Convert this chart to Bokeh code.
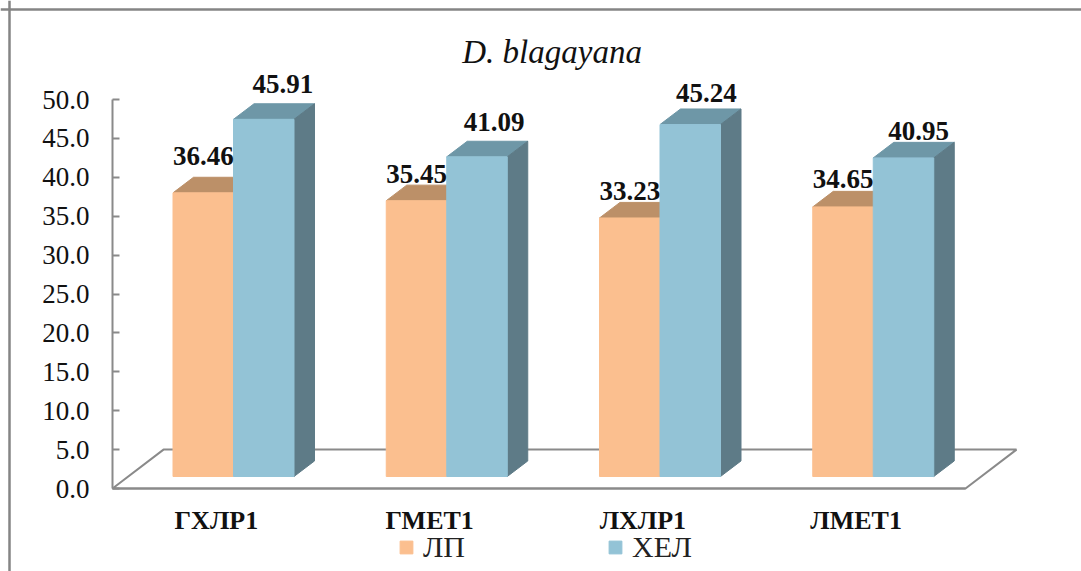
from bokeh.plotting import figure
from bokeh.models import (ColumnDataSource, FixedTicker, NumeralTickFormatter, Legend, LegendItem,
                          Label, Span)
from bokeh.core.properties import value
from bokeh.embed import file_html
from bokeh.resources import INLINE

# ---- data ----
categories = ["ГХЛР1", "ГМЕТ1", "ЛХЛР1", "ЛМЕТ1"]
lp_values = [36.46, 35.45, 33.23, 34.65]
hel_values = [45.91, 41.09, 45.24, 40.95]
series_names = ["ЛП", "ХЕЛ"]
y_ticks = [0, 5, 10, 15, 20, 25, 30, 35, 40, 45, 50]
title_text = "D. blagayana"

# ---- layout and style ----
W, H = 1081, 571
ORIGIN_X, ORIGIN_Y = 112, 488                  # pixel of the chart's origin
PX_X, PX_Y = 213.25, 7.78                      # pixels per data unit
DX, DY = 20.5 / PX_X, 2.0                      # depth of the 3D bars
BASE = 12 / PX_Y                               # front plane lift over the floor
BAR_W = 60.5 / PX_X
CENTER = 121 / PX_X
FLOOR_DX = 51 / PX_X
SERIF = "Liberation Serif"
GREY = "#8a8a8a"
INK = "#111111"
ORANGE, ORANGE_TOP = "#fbbf8f", "#bc9068"
BLUE, BLUE_TOP, BLUE_SIDE = "#93c3d6", "#6e97a7", "#5e7b87"

p = figure(width=W, height=H, output_backend="svg", toolbar_location=None,
           x_range=(-ORIGIN_X / PX_X, (W - ORIGIN_X) / PX_X),
           y_range=((ORIGIN_Y - H) / PX_Y, ORIGIN_Y / PX_Y),
           min_border=0, background_fill_color="white", border_fill_color="white")
p.outline_line_color = None
p.grid.visible = False

# ---- axes (placed inside the frame so that the frame fills the page) ----
ya = p.yaxis[0]
ya.fixed_location = 0
ya.bounds = (0, 50)
ya.ticker = FixedTicker(ticks=y_ticks)
ya.formatter = NumeralTickFormatter(format="0.0")
ya.major_tick_in, ya.major_tick_out = 7, 0
ya.minor_tick_line_color = None
ya.axis_line_color = ya.major_tick_line_color = GREY
ya.axis_line_width = ya.major_tick_line_width = 2
ya.major_label_text_font = SERIF
ya.major_label_text_font_size = "27px"
ya.major_label_text_color = INK
ya.major_label_standoff = 23

n = len(categories)
label_pos = [i + 0.487 for i in range(n)]
xa = p.xaxis[0]
xa.fixed_location = 0
xa.bounds = (0, n)
xa.ticker = FixedTicker(ticks=label_pos)
xa.major_label_overrides = dict(zip(label_pos, categories))
xa.major_tick_line_color = None
xa.minor_tick_line_color = None
xa.axis_line_color = GREY
xa.axis_line_width = 2
xa.major_label_text_font = SERIF
xa.major_label_text_font_style = "bold"
xa.major_label_text_font_size = "26px"
xa.major_label_text_color = INK
xa.major_label_standoff = 11

# ---- outer frame lines ----
p.add_layout(Span(location=9, location_units="screen", dimension="height",
                  line_color="#858585", line_width=2.5))
p.add_layout(Span(location=H - 9, location_units="screen", dimension="width",
                  line_color="#858585", line_width=2.5))

# ---- floor ----
p.patch([0, FLOOR_DX, n + FLOOR_DX, n], [0, 5, 5, 0], fill_color=None,
        line_color=GREY, line_width=2)


def faces(center, vals):
    left = [c - BAR_W / 2 for c in center]
    right = [c + BAR_W / 2 for c in center]
    top = [BASE + v for v in vals]
    top_x = [[l, l + DX, r + DX, r] for l, r in zip(left, right)]
    top_y = [[t, t + DY, t + DY, t] for t in top]
    side_x = [[r, r + DX, r + DX, r] for r in right]
    side_y = [[BASE, BASE + DY, t + DY, t] for t in top]
    return top, top_x, top_y, side_x, side_y


xs_lp = [i + CENTER - BAR_W / 2 for i in range(n)]
xs_hel = [i + CENTER + BAR_W / 2 for i in range(n)]

top, tx, ty, sx, sy = faces(xs_lp, lp_values)
p.patches(tx, ty, fill_color=ORANGE_TOP, line_color=ORANGE_TOP)
r_lp = p.vbar(x=xs_lp, top=top, bottom=BASE, width=BAR_W, fill_color=ORANGE, line_color=ORANGE)

top2, tx, ty, sx, sy = faces(xs_hel, hel_values)
p.patches(tx, ty, fill_color=BLUE_TOP, line_color=BLUE_TOP)
p.patches(sx, sy, fill_color=BLUE_SIDE, line_color=BLUE_SIDE)
r_hel = p.vbar(x=xs_hel, top=top2, bottom=BASE, width=BAR_W, fill_color=BLUE, line_color=BLUE)

# ---- value labels ----
lp_dx, lp_dy = [0, 0, 0, 0], [-37, -27, -27, -28]
hel_dx, hel_dy = [19, 17, 16, 15], [-35, -35, -32, -27]
for xs, tops, vals, dx, dy in ((xs_lp, top, lp_values, lp_dx, lp_dy),
                               (xs_hel, top2, hel_values, hel_dx, hel_dy)):
    src = ColumnDataSource(dict(x=xs, y=tops, t=[f"{v:.2f}" for v in vals], dx=dx, dy=dy))
    p.text(x="x", y="y", text="t", source=src, x_offset="dx", y_offset="dy",
           text_font=value(SERIF), text_font_style="bold", text_font_size="27px",
           text_align="center", text_baseline="middle", text_color=INK)

# ---- legend ----
legend = Legend(items=[LegendItem(label=series_names[0], renderers=[r_lp]),
                       LegendItem(label=series_names[1], renderers=[r_hel])],
                orientation="horizontal", location=(398, 7),
                glyph_width=16, glyph_height=16, label_standoff=9, spacing=142,
                margin=0, padding=0, border_line_color=None, background_fill_alpha=0,
                label_text_font=SERIF, label_text_font_size="30px", label_text_color="#222222",
                label_height=28)
p.add_layout(legend, "center")

# ---- title ----
p.add_layout(Label(x=(551.6 - ORIGIN_X) / PX_X, y=(ORIGIN_Y - 51) / PX_Y, text=title_text,
                   text_font=SERIF, text_font_style="italic", text_font_size="33px",
                   text_color=INK, text_align="center", text_baseline="middle"))

open("out.html", "w").write(file_html(p, INLINE))
